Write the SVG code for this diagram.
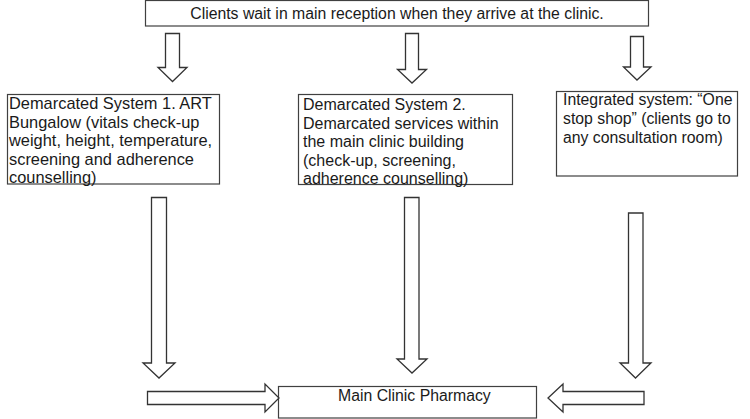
<svg xmlns="http://www.w3.org/2000/svg" width="750" height="419" viewBox="0 0 750 419">
<style>
  .box { fill: #fff; stroke: #404040; stroke-width: 1.2; }
  .arrow { fill: #fff; stroke: #333; stroke-width: 1.3; stroke-linejoin: miter; }
  text { font-family: "Liberation Sans", Arial, sans-serif; font-size: 15.8px; fill: #1a1a1a; }
  .big { font-size: 16.4px; }
  .mid { font-size: 16px; }
</style>
<rect width="750" height="419" fill="#fff"/>
<g id="reception">
  <rect class="box" x="145.5" y="0.5" width="503" height="25.5"/>
  <text x="397" y="19" text-anchor="middle">Clients wait in main reception when they arrive at the clinic.</text>
</g>
<g id="system1">
  <rect class="box" x="7.5" y="94.5" width="212" height="89.5"/>
  <text class="big" x="9" y="109">Demarcated System 1. ART</text>
  <text class="big" x="9" y="127.5">Bungalow (vitals check-up</text>
  <text class="big" x="9" y="146">weight, height, temperature,</text>
  <text class="big" x="9" y="164.5">screening and adherence</text>
  <text class="big" x="9" y="183">counselling)</text>
</g>
<g id="system2">
  <rect class="box" x="298.5" y="94.5" width="214" height="90"/>
  <text class="mid" x="303" y="110">Demarcated System 2.</text>
  <text class="mid" x="303" y="128.5">Demarcated services within</text>
  <text class="mid" x="303" y="147">the main clinic building</text>
  <text class="mid" x="303" y="165.5">(check-up, screening,</text>
  <text class="mid" x="303" y="184">adherence counselling)</text>
</g>
<g id="integrated">
  <rect class="box" x="556.5" y="91.5" width="181" height="84.5"/>
  <text x="563" y="105">Integrated system: “One</text>
  <text x="563" y="124">stop shop” (clients go to</text>
  <text x="563" y="143">any consultation room)</text>
</g>
<g id="pharmacy">
  <rect class="box" x="278.5" y="386.5" width="258" height="31.5"/>
  <text x="338" y="401">Main Clinic Pharmacy</text>
</g>
<g id="connectors">
  <path class="arrow" d="M165.5,33.5 H179.5 V67.5 H187 L172.5,81.5 L158,67.5 H165.5 Z"/>
  <path class="arrow" d="M405.5,33.5 H418.5 V69.5 H426.5 L412,83 L397.5,69.5 H405.5 Z"/>
  <path class="arrow" d="M630.5,36.5 H643.5 V67 H651 L637,80 L623.5,67 H630.5 Z"/>
  <path class="arrow" d="M151.5,197.5 H166.5 V363 H175 L159,378 L143,363 H151.5 Z"/>
  <path class="arrow" d="M404.5,197.5 H419 V359 H427 L412,373 L397,359 H404.5 Z"/>
  <path class="arrow" d="M628.5,213 H643 V363 H651 L635.5,378 L620,363 H628.5 Z"/>
  <path class="arrow" d="M147.5,391.5 V404.5 H265 V412 L279,398 L265,384 V391.5 Z"/>
  <path class="arrow" d="M644,391.5 V404.5 H563 V412 L548,398 L563,384 V391.5 Z"/>
</g>
</svg>
